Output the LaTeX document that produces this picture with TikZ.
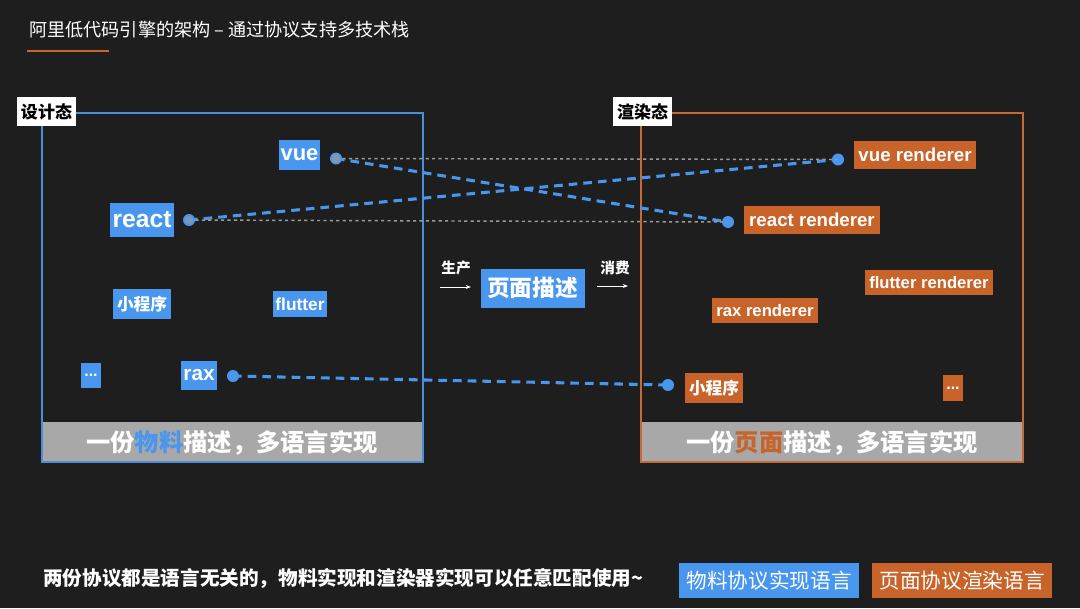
\documentclass[tikz,border=0pt]{standalone}
\usepackage{fontspec}
\setmainfont{Noto Sans CJK SC}
\newfontfamily\latinfont{Liberation Sans}
\usetikzlibrary{arrows.meta}
\definecolor{bgc}{HTML}{1E1E1E}
\definecolor{lblue}{HTML}{4896EE}
\definecolor{lorange}{HTML}{C8642A}
\definecolor{bandgray}{HTML}{A8A8A8}
\definecolor{bblue}{HTML}{4A8FDB}
\definecolor{borange}{HTML}{C46A32}
\definecolor{dotgray}{HTML}{9A9A9A}
\newcommand\fs[1]{\fontsize{#1}{#1}\selectfont}
\tikzset{
  tag/.style={inner sep=0pt,text=white,font=\latinfont\bfseries},
  btag/.style={tag,fill=lblue},
  otag/.style={tag,fill=lorange},
  ctag/.style={inner sep=0pt,text=white,font=\bfseries},
  statelbl/.style={fill=white,text=black,inner sep=0pt,minimum width=59*0.75pt,minimum height=29*0.75pt,font=\bfseries\fs{12.75}},
  dotnode/.style={circle,fill=lblue,inner sep=0pt,minimum size=12*0.75pt},
  link/.style={lblue,line width=2.3pt,dash pattern=on 6.5pt off 4.5pt},
  ghost/.style={dotgray,line width=1.1pt,dash pattern=on 2.4pt off 2.4pt},
  flowarrow/.style={white,line width=0.6pt,-{Stealth[length=4pt,width=3pt]}}
}
\begin{document}
\begin{tikzpicture}[x=0.75pt,y=-0.75pt]
\fill[bgc] (0,0) rectangle (1080,608);
\useasboundingbox (0,0) rectangle (1080,608);

% title
\node[anchor=west,text=white,inner sep=0pt,font=\fs{13.6}] (title) at (29,30) {阿里低代码引擎的架构 – 通过协议支持多技术栈};
\draw[lorange,line width=1.6pt] (27,51) -- (109,51);

% bands and frames
\fill[bandgray] (42,422) rectangle (423,462);
\fill[bandgray] (641,422) rectangle (1023,462);
\draw[bblue,line width=1.5pt] (42,113) rectangle (423,462);
\draw[borange,line width=1.5pt] (641,113) rectangle (1023,462);
\node[text=white,inner sep=0pt,font=\bfseries\fs{18.2}] (bandL) at (232,443) {一份\textcolor{lblue}{物料}描述，多语言实现};
\node[text=white,inner sep=0pt,font=\bfseries\fs{18.2}] (bandR) at (832,443) {一份\textcolor{lorange}{页面}描述，多语言实现};

% state labels
\node[statelbl] (design) at (46.5,111.5) {设计态};
\node[statelbl] (render) at (642.5,111.5) {渲染态};

% left tags
\node[btag,minimum width=41*0.75pt,minimum height=30*0.75pt,font=\latinfont\bfseries\fs{16.5}] (vue) at (299.5,155) {vue};
\node[btag,minimum width=64*0.75pt,minimum height=34*0.75pt,font=\latinfont\bfseries\fs{18.5}] (react) at (142,220) {react};
\node[ctag,fill=lblue,minimum width=58*0.75pt,minimum height=30*0.75pt,font=\bfseries\fs{12.5}] (mpL) at (142,304) {小程序};
\node[btag,minimum width=54*0.75pt,minimum height=26*0.75pt,font=\latinfont\bfseries\fs{13}] (flutter) at (300,304) {flutter};
\node[btag,minimum width=20*0.75pt,minimum height=25*0.75pt,font=\latinfont\bfseries\fs{12}] (moreL) at (91,375) {...};
\node[btag,minimum width=36*0.75pt,minimum height=29*0.75pt,font=\latinfont\bfseries\fs{15.5}] (rax) at (199,375.5) {rax};

% right tags
\node[otag,minimum width=122*0.75pt,minimum height=28*0.75pt,font=\latinfont\bfseries\fs{14}] (vueR) at (915,155) {vue renderer};
\node[otag,minimum width=136*0.75pt,minimum height=28*0.75pt,font=\latinfont\bfseries\fs{14}] (reactR) at (812,220) {react renderer};
\node[otag,minimum width=128*0.75pt,minimum height=25*0.75pt,font=\latinfont\bfseries\fs{12.5}] (flutterR) at (929,282.5) {flutter renderer};
\node[otag,minimum width=106*0.75pt,minimum height=25*0.75pt,font=\latinfont\bfseries\fs{12.5}] (raxR) at (765,310.5) {rax renderer};
\node[ctag,fill=lorange,minimum width=58*0.75pt,minimum height=30*0.75pt,font=\bfseries\fs{12.5}] (mpR) at (714,388) {小程序};
\node[otag,minimum width=20*0.75pt,minimum height=26*0.75pt,font=\latinfont\bfseries\fs{12}] (moreR) at (953,388) {...};

% middle
\node[ctag,fill=lblue,minimum width=104*0.75pt,minimum height=39*0.75pt,font=\bfseries\fs{17}] (page) at (532.5,288) {页面描述};
\node[ctag,font=\bfseries\fs{11}] (produce) at (456,268) {生产};
\node[ctag,font=\bfseries\fs{11}] (consume) at (615,268) {消费};
\coordinate (pa1) at (440,287);
\coordinate (pa2) at (471,287);
\coordinate (ca1) at (597,286);
\coordinate (ca2) at (628,286);
\draw[flowarrow] (pa1) -- (pa2);
\draw[flowarrow] (ca1) -- (ca2);

% dots
\node[dotnode] (vuedot) at (336,158.5) {};
\node[dotnode] (reactdot) at (189,220) {};
\node[dotnode] (raxdot) at (233,376) {};
\node[dotnode] (vrdot) at (838,159.5) {};
\node[dotnode] (rrdot) at (728,222) {};
\node[dotnode] (mpdot) at (668,385) {};

% connectors
\draw[link] (vuedot.center) -- (rrdot.center);
\draw[link] (reactdot.center) -- (vrdot.center);
\draw[link] (raxdot.center) -- (mpdot.center);
\draw[ghost] (vuedot.center) -- (vrdot.center);
\draw[ghost] (reactdot.center) -- (rrdot.center);
\fill[dotgray,opacity=0.7] (vuedot.center) circle[radius=4.5];
\fill[dotgray,opacity=0.6] (reactdot.center) circle[radius=4];

% footer
\node[anchor=west,text=white,inner sep=0pt,font=\bfseries\fs{14.7}] (note) at (43,578) {两份协议都是语言无关的，物料实现和渲染器实现可以任意匹配使用\textasciitilde};
\node[ctag,fill=lblue,minimum width=180*0.75pt,minimum height=35*0.75pt,font=\fs{15.5}] (legB) at (769,580.5) {物料协议实现语言};
\node[ctag,fill=lorange,minimum width=180*0.75pt,minimum height=35*0.75pt,font=\fs{15.5}] (legO) at (962,580.5) {页面协议渲染语言};
\end{tikzpicture}
\end{document}
